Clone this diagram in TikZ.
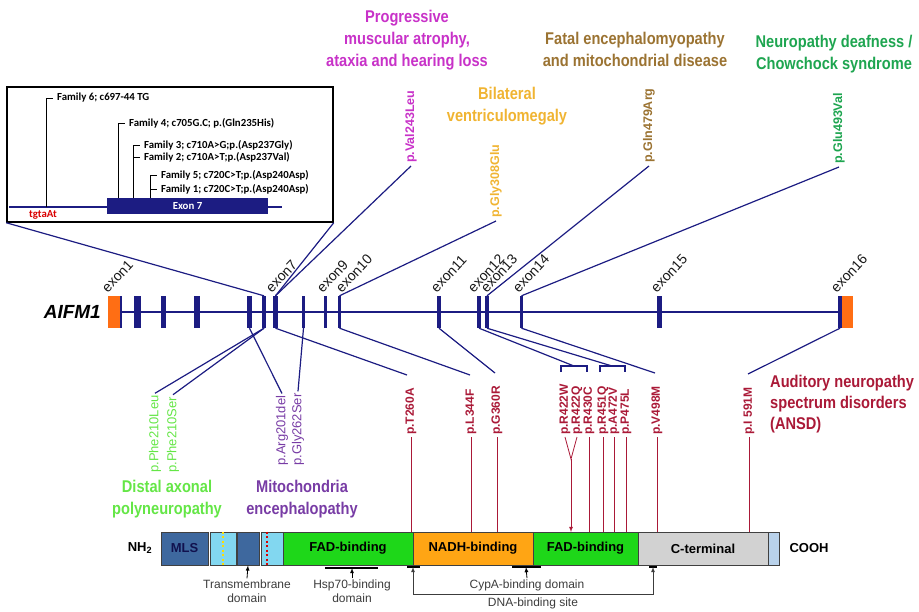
\documentclass[tikz,border=0pt]{standalone}
\usepackage{fontspec}
\setmainfont{Liberation Sans}
\newfontfamily\narrowfont[FakeStretch=0.86]{Liberation Sans}
\newfontfamily\famfont{Carlito}
\usepackage{tikz}

\definecolor{genblau}{RGB}{28,28,130}
\definecolor{exonorange}{RGB}{255,110,20}
\definecolor{magenta2}{RGB}{200,50,200}
\definecolor{gelb}{RGB}{240,180,50}
\definecolor{braun}{RGB}{155,115,50}
\definecolor{gruen}{RGB}{30,165,80}
\definecolor{hellgruen}{RGB}{100,230,70}
\definecolor{lila}{RGB}{120,60,165}
\definecolor{dunkelrot}{RGB}{170,25,55}
\definecolor{mlsblau}{RGB}{62,104,158}
\definecolor{tmcyan}{RGB}{130,215,240}
\definecolor{fadgruen}{RGB}{30,215,25}
\definecolor{nadhorange}{RGB}{255,165,20}
\definecolor{cgrau}{RGB}{210,210,210}
\definecolor{endblau}{RGB}{185,210,235}
\definecolor{textgrau}{RGB}{60,60,60}

\begin{document}
\begin{tikzpicture}[x=1pt,y=-1pt,
		exon/.style={fill=genblau, minimum height=32pt, inner sep=0pt},
		exontxt/.style={rotate=47, anchor=south west, inner sep=0pt, text=black!90, font=\fontsize{14}{14}\selectfont},
		verb/.style={genblau, line width=1.2pt},
		mut/.style={rotate=90, anchor=west, inner sep=3pt, font=\bfseries\fontsize{12.5}{13}\selectfont},
		mutunten/.style={rotate=90, anchor=west, inner sep=2pt, font=\fontsize{13}{13}\selectfont},
		rotmut/.style={rotate=90, anchor=west, inner sep=2pt, dunkelrot, font=\bfseries\fontsize{12}{13}\selectfont},
		krank/.style={align=center, inner sep=0pt, font=\narrowfont\bfseries\fontsize{17}{22}\selectfont},
		rotlinie/.style={dunkelrot, line width=0.8pt},
		segment/.style={draw=black!75, line width=0.8pt, minimum height=33pt, inner sep=0pt, font=\bfseries\fontsize{13}{13}\selectfont},
		domstrich/.style={line width=2.5pt},
		pfeil/.style={-latex, line width=0.8pt},
		domtxt/.style={align=center, inner sep=1pt, textgrau, font=\fontsize{12}{14}\selectfont},
		famtxt/.style={anchor=west, inner sep=0pt, inner xsep=4pt, font=\famfont\bfseries\fontsize{10.8}{11}\selectfont}]
		\useasboundingbox (0,0) rectangle (919,611);

		% Exons
		\node[exon, fill=exonorange, minimum width=12pt] (e1o) at (114,312) {};
		\node[exon, minimum width=2pt] (e1) at (121,312) {};
		\node[exon, minimum width=7pt] (e2) at (137.5,312) {};
		\node[exon, minimum width=5pt] (e3) at (163.5,312) {};
		\node[exon, minimum width=6pt] (e4) at (197,312) {};
		\node[exon, minimum width=5pt] (e5) at (249.5,312) {};
		\node[exon, minimum width=4pt] (e6) at (264,312) {};
		\node[exon, minimum width=5pt] (e7) at (275.5,312) {};
		\node[exon, minimum width=3pt] (e8) at (303.5,312) {};
		\node[exon, minimum width=3pt] (e9) at (325.5,312) {};
		\node[exon, minimum width=3pt] (e10) at (339.5,312) {};
		\node[exon, minimum width=4pt] (e11) at (439,312) {};
		\node[exon, minimum width=4pt] (e12) at (479,312) {};
		\node[exon, minimum width=4pt] (e13) at (487,312) {};
		\node[exon, minimum width=3pt] (e14) at (521.5,312) {};
		\node[exon, minimum width=5pt] (e15) at (659.5,312) {};
		\node[exon, minimum width=4pt] (e16) at (840,312) {};
		\node[exon, fill=exonorange, minimum width=11pt] (e16o) at (847.5,312) {};
		\draw[genblau, line width=2pt] (e1.east) -- (e16.west);
		\node[anchor=east, inner sep=0pt, font=\bfseries\itshape\fontsize{19}{19}\selectfont] (gen) at (101,312) {AIFM1};

		% Exon-Beschriftung
		\node[exontxt] (t1) at (108,294) {exon1};
		\node[exontxt] (t7) at (272,294) {exon7};
		\node[exontxt] (t9) at (323,294) {exon9};
		\node[exontxt] (t10) at (342,294) {exon10};
		\node[exontxt] (t11) at (437,294) {exon11};
		\node[exontxt] (t12) at (474,294) {exon12};
		\node[exontxt] (t13) at (487,294) {exon13};
		\node[exontxt] (t14) at (519,294) {exon14};
		\node[exontxt] (t15) at (657,294) {exon15};
		\node[exontxt] (t16) at (837,294) {exon16};

		% Ausschnitt Exon 7
		\node[draw, line width=1.5pt, minimum width=326pt, minimum height=135pt, inner sep=0pt] (inset) at (170,154.5) {};
		\coordinate (i1) at (9,207);
		\coordinate (i2) at (282,207);
		\draw[genblau, line width=2pt] (i1) -- (i2);
		\node[fill=genblau, text=white, minimum width=161pt, minimum height=16pt, inner sep=0pt, font=\famfont\bfseries\fontsize{10.8}{11}\selectfont] (ex7) at (187.5,206) {Exon 7};
		\node[red!85!black, inner sep=0pt, font=\famfont\bfseries\fontsize{10.8}{11}\selectfont] (tgt) at (43,215) {tgtaAt};
		\coordinate (f6) at (46,207);
		\coordinate (f4) at (118,198);
		\coordinate (f32) at (133,198);
		\coordinate (f51) at (150,198);
		\node[famtxt] (fam6) at (53,98) {Family 6; c697-44 TG};
		\node[famtxt] (fam4) at (125,123) {Family 4; c705G.C; p.(Gln235His)};
		\node[famtxt] (fam3) at (140,145) {Family 3; c710A>G;p.(Asp237Gly)};
		\node[famtxt] (fam2) at (140,157) {Family 2; c710A>T;p.(Asp237Val)};
		\node[famtxt] (fam5) at (157,175) {Family 5; c720C>T;p.(Asp240Asp)};
		\node[famtxt] (fam1) at (157,189) {Family 1; c720C>T;p.(Asp240Asp)};
		\draw[thick] (f6) |- (fam6.west);
		\draw[thick] (f4) |- (fam4.west);
		\draw[thick] (f32) |- (fam3.west);
		\draw[thick] (f32 |- fam2.west) -- (fam2.west);
		\draw[thick] (f51) |- (fam5.west);
		\draw[thick] (f51 |- fam1.west) -- (fam1.west);
		\draw[verb] (inset.south west) -- (e6.north);
		\draw[verb] (inset.south east) -- (e7.north);

		% Mutationen oben
		\node[mut, magenta2] (mVal) at (411,166) {p.Val243Leu};
		\node[mut, gelb] (mGly) at (496,221) {p.Gly308Glu};
		\node[mut, braun] (mGln) at (649,166) {p.Gln479Arg};
		\node[mut, gruen] (mGlu) at (839,167) {p.Glu493Val};
		\draw[verb] (e7.north) -- (mVal.west);
		\draw[verb] (e10.north) -- (mGly.west);
		\draw[verb] (e13.north) -- (mGln.west);
		\draw[verb] (e14.north) -- (mGlu.west);

		% Krankheiten oben
		\node[krank, magenta2] (prog) at (407,40) {Progressive\\muscular atrophy,\\ataxia and hearing loss};
		\node[krank, gelb] (bilat) at (507,106) {Bilateral\\ventriculomegaly};
		\node[krank, braun] (fatal) at (635,49) {Fatal encephalomyopathy\\and mitochondrial disease};
		\node[krank, gruen] (neuro) at (834,54) {Neuropathy deafness /\\Chowchock syndrome};

		% Mutationen unten links
		\node[mutunten, hellgruen] (mPheL) at (155,475) {p.Phe210Leu};
		\node[mutunten, hellgruen] (mPheS) at (173,475) {p.Phe210Ser};
		\node[mutunten, lila] (mArg) at (282,468) {p.Arg201del};
		\node[mutunten, lila] (mGlyS) at (298,468) {p.Gly262Ser};
		\draw[verb] (e6.south) -- (mPheL.east);
		\draw[verb] (e6.south) -- (mPheS.east);
		\draw[verb] (e5.south) -- (mArg.east);
		\draw[verb] (e8.south) -- (mGlyS.east);
		\node[krank, hellgruen] (distal) at (167,499) {Distal axonal\\polyneuropathy};
		\node[krank, lila] (mito) at (302,499) {Mitochondria\\encephalopathy};

		% ANSD Mutationen
		\node[rotmut] (rT260A) at (411,437) {p.T260A};
		\node[rotmut] (rL344F) at (471,437) {p.L344F};
		\node[rotmut] (rG360R) at (497,437) {p.G360R};
		\node[rotmut] (rR422W) at (565,437) {p.R422W};
		\node[rotmut] (rR422Q) at (577,437) {p.R422Q};
		\node[rotmut] (rR430C) at (589,437) {p.R430C};
		\node[rotmut] (rR451Q) at (603,437) {p.R451Q};
		\node[rotmut] (rA472V) at (614,437) {p.A472V};
		\node[rotmut] (rP475L) at (626,437) {p.P475L};
		\node[rotmut] (rV498M) at (657,437) {p.V498M};
		\node[rotmut] (rI591M) at (749,437) {p.I 591M};
		\node[krank, dunkelrot, align=left, anchor=west, font=\narrowfont\bfseries\fontsize{17}{21}\selectfont] (ansd) at (770,404) {Auditory neuropathy\\spectrum disorders\\(ANSD)};

		\coordinate (cT260A) at (407,375);
		\coordinate (cL344F) at (470,375);
		\coordinate (cG360R) at (495,373);
		\coordinate (cV498M) at (655,373);
		\coordinate (cI591M) at (748,374);
		\coordinate (b1) at (574,366);
		\coordinate (b2) at (612,366);
		\coordinate (kl1) at (561,372);
		\coordinate (kl2) at (600,372);
		\draw[verb] (e7.south) -- (cT260A);
		\draw[verb] (e10.south) -- (cL344F);
		\draw[verb] (e11.south) -- (cG360R);
		\draw[verb] (e12.south) -- (b1);
		\draw[verb] (e13.south) -- (b2);
		\draw[verb] (e14.south) -- (cV498M);
		\draw[verb] (e16.south) -- (cI591M);
		\draw[verb] (kl1) -- ++(0,-6) -| ++(26,6);
		\draw[verb] (kl2) -- ++(0,-6) -| ++(25,6);

		% Protein
		\node[segment, fill=mlsblau, minimum width=47pt, text=genblau!60!black] (sMLS) at (184.5,548.5) {MLS};
		\node[segment, fill=tmcyan, minimum width=26pt] (sTM1) at (223,548.5) {};
		\node[segment, fill=mlsblau, minimum width=22pt] (sTM2) at (248,548.5) {};
		\node[segment, fill=tmcyan, minimum width=22pt] (sTM3) at (272,548.5) {};
		\node[segment, fill=fadgruen, minimum width=130pt] (sFAD1) at (348,548.5) {FAD-binding};
		\node[segment, fill=nadhorange, minimum width=120pt] (sNADH) at (473,548.5) {NADH-binding};
		\node[segment, fill=fadgruen, minimum width=105pt] (sFAD2) at (585.5,548.5) {FAD-binding};
		\node[segment, fill=cgrau, minimum width=130pt] (sCterm) at (703,548.5) {C-terminal};
		\node[segment, fill=endblau, minimum width=11pt] (sEnd) at (773.5,548.5) {};
		\draw[yellow!80!orange, line width=2pt, dash pattern=on 2pt off 2.5pt] (sTM1.north) -- (sTM1.south);
		\draw[red!85!black, line width=2pt, dash pattern=on 2pt off 2.5pt] ([xshift=-5pt]sTM3.north) -- ([xshift=-5pt]sTM3.south);
		\node[font=\bfseries\fontsize{13}{13}\selectfont] (nh2) at (140,548) {NH\textsubscript{2}};
		\node[font=\bfseries\fontsize{13}{13}\selectfont] (cooh) at (809,548) {COOH};

		% Linien zum Protein
		\coordinate (bartop) at (0,532);
		\coordinate (v422) at (571,459);
		\draw[rotlinie] (rT260A.west) -- (rT260A.west |- bartop);
		\draw[rotlinie] (rL344F.west) -- (rL344F.west |- bartop);
		\draw[rotlinie] (rG360R.west) -- (rG360R.west |- bartop);
		\draw[rotlinie] (rR422W.west) -- (v422) -- (rR422Q.west);
		\draw[rotlinie, -latex] (v422) -- (v422 |- bartop);
		\draw[rotlinie] (rR430C.west) -- (rR430C.west |- bartop);
		\draw[rotlinie] (rR451Q.west) -- (rR451Q.west |- bartop);
		\draw[rotlinie] (rA472V.west) -- (rA472V.west |- bartop);
		\draw[rotlinie] (rP475L.west) -- (rP475L.west |- bartop);
		\draw[rotlinie] (rV498M.west) -- (rV498M.west |- bartop);
		\draw[rotlinie] (rI591M.west) -- (rI591M.west |- bartop);

		% Domaenen
		\coordinate (hsp) at (352,568);
		\coordinate (cyp) at (526,567);
		\coordinate (dnaL) at (413,567);
		\coordinate (dnaR) at (653,567);
		\node[domtxt] (tmtxt) at (247,591) {Transmembrane\\domain};
		\node[domtxt] (hsptxt) at (352,591) {Hsp70-binding\\domain};
		\node[domtxt] (cyptxt) at (527,585) {CypA-binding domain};
		\node[domtxt] (dnatxt) at (533,603) {DNA-binding site};
		\draw[pfeil] (tmtxt.north) -- (sTM2.south);
		\draw[domstrich] ([xshift=-27pt]hsp) -- ([xshift=26pt]hsp);
		\draw[pfeil] (hsptxt.north) -- (hsp);
		\draw[domstrich] ([xshift=-14pt]cyp) -- ([xshift=15pt]cyp);
		\draw[pfeil] (cyptxt.north) -- (cyp);
		\draw[domstrich, line width=2pt] ([xshift=-6pt]dnaL) -- ([xshift=7pt]dnaL);
		\draw[domstrich, line width=2pt] ([xshift=-4pt]dnaR) -- ([xshift=4pt]dnaR);
		\draw[textgrau, line width=0.8pt, latex-latex] (dnaL) -- ++(0,27) -| (dnaR);
	\end{tikzpicture}
\end{document}
